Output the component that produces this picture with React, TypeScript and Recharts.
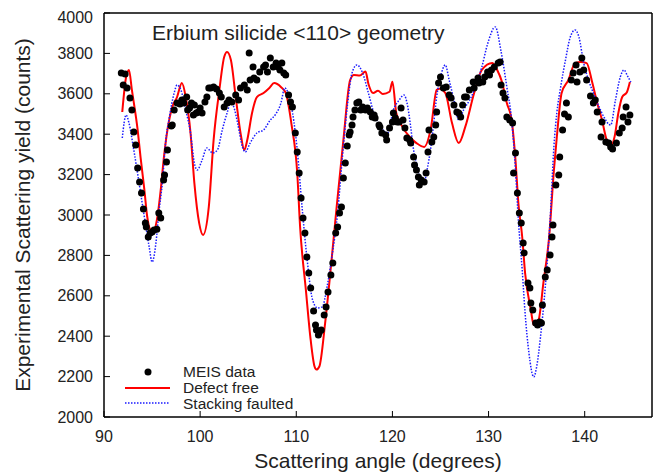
import {
  ComposedChart,
  Customized,
  Legend,
  Line,
  Scatter,
  XAxis,
  YAxis,
} from "recharts";

const FONT = "'Liberation Sans', Arial, Helvetica, sans-serif";

// MEIS data (scattering angle, yield)
const meisAngle = [
  91.8, 92.0, 92.2, 92.4, 92.7, 92.9, 93.1, 93.3, 93.5, 93.7, 93.9, 94.1, 94.3,
  94.4, 94.6, 94.8, 95.0, 95.2, 95.5, 95.7, 95.9, 96.2, 96.3, 96.5, 96.6, 97.0,
  97.1, 97.3, 97.6, 97.9, 98.1, 98.3, 98.6, 98.7, 98.9, 99.1, 99.3, 99.4, 99.6,
  99.8, 100.0, 100.2, 100.5, 100.7, 100.9, 101.1, 101.4, 101.7, 102.0, 102.2,
  102.5, 102.8, 103.0, 103.3, 103.7, 104.0, 104.2, 104.6, 104.9, 105.1, 105.2,
  105.5, 105.6, 105.9, 106.2, 106.6, 106.8, 107.0, 107.3, 107.6, 107.9, 108.1,
  108.3, 108.5, 108.7, 108.9, 109.2, 109.4, 109.6, 109.9, 110.1, 110.3, 110.5,
  110.7, 110.9, 111.1, 111.3, 111.5, 111.8, 112.0, 112.1, 112.3, 112.4, 112.6,
  112.9, 113.1, 113.3, 113.6, 113.8, 114.1, 114.3, 114.5, 114.7, 114.9, 115.1,
  115.3, 115.5, 115.6, 115.8, 115.9, 116.1, 116.3, 116.5, 116.7, 116.9, 117.2,
  117.4, 117.7, 117.9, 118.1, 118.2, 118.6, 118.7, 118.9, 119.3, 119.4, 119.7,
  120.0, 120.1, 120.3, 120.5, 120.7, 120.9, 121.1, 121.3, 121.5, 121.8, 121.9,
  122.2, 122.3, 122.5, 122.7, 122.8, 123.0, 123.3, 123.5, 123.7, 123.8, 124.1,
  124.3, 124.5, 124.6, 124.8, 125.0, 125.3, 125.6, 125.9, 126.1, 126.4, 126.7,
  126.9, 127.1, 127.3, 127.5, 127.7, 128.0, 128.4, 128.5, 128.9, 129.0, 129.4,
  129.6, 129.9, 130.1, 130.3, 130.6, 131.0, 131.2, 131.3, 131.5, 131.7, 131.9,
  132.2, 132.5, 132.6, 132.8, 133.0, 133.2, 133.4, 133.6, 133.7, 134.1, 134.3,
  134.4, 134.6, 134.9, 135.1, 135.3, 135.5, 135.6, 135.9, 136.1, 136.4, 136.6,
  136.7, 137.0, 137.3, 137.4, 137.7, 137.9, 138.1, 138.3, 138.6, 138.8, 139.1,
  139.2, 139.5, 139.7, 139.9, 140.2, 140.6, 140.9, 141.1, 141.3, 141.7, 141.8,
  142.2, 142.5, 142.7, 142.9, 143.3, 143.6, 143.9, 144.0, 144.3, 144.5, 144.7,
];
const meisYield = [
  3703, 3644, 3698, 3629, 3579, 3520, 3411, 3347, 3233, 3163, 3109, 3030, 2960,
  2941, 2891, 2911, 2916, 2926, 2930, 3010, 2985, 3173, 3198, 3262, 3322, 3440,
  3445, 3520, 3554, 3550, 3569, 3554, 3584, 3520, 3530, 3554, 3495, 3545, 3505,
  3510, 3530, 3505, 3559, 3584, 3629, 3629, 3634, 3624, 3604, 3584,
  3535, 3554, 3569, 3559, 3594, 3569, 3629, 3644, 3619, 3802, 3668,
  3733, 3678, 3668, 3708, 3733, 3743, 3708, 3777, 3733, 3752, 3733,
  3718, 3752, 3703, 3693, 3594, 3559, 3535, 3406, 3312, 3208, 3084,
  2985, 2911, 2792, 2713, 2639, 2525, 2455, 2431, 2406, 2420, 2431,
  2505, 2545, 2619, 2703, 2762, 2911, 2941, 3010, 3040, 3183, 3257,
  3342, 3396, 3411, 3445, 3485, 3520, 3554, 3559, 3520, 3535, 3520,
  3530, 3510, 3485, 3495, 3480, 3445, 3436, 3406, 3396, 3371, 3431,
  3460, 3505, 3480, 3460, 3460, 3530, 3470, 3431, 3381, 3371, 3356,
  3287, 3248, 3223, 3188, 3149, 3173, 3163, 3208, 3312, 3421, 3361,
  3386, 3445, 3510, 3653, 3683, 3629, 3634, 3594, 3579, 3545, 3510,
  3505, 3485, 3545, 3584, 3584, 3619, 3658, 3629, 3678, 3653, 3658,
  3683, 3708, 3693, 3718, 3733, 3752, 3757, 3644, 3604, 3579, 3485,
  3470, 3455, 3208, 3307, 3109, 3010, 2960, 2861, 2812, 2663, 2639,
  2564, 2530, 2465, 2455, 2470, 2465, 2554, 2693, 2728, 2802, 2891,
  2950, 3149, 3198, 3287, 3421, 3500, 3554, 3485, 3668, 3703, 3743,
  3658, 3708, 3777, 3718, 3668, 3589, 3554, 3569, 3510, 3386, 3460,
  3361, 3356, 3337, 3327, 3356, 3406, 3431, 3485, 3535, 3460, 3495,
];

// Defect free simulation
const defectAngle = [
  91.9, 92.3, 92.6, 92.9, 93.5, 93.8, 94.2, 94.5, 94.9, 95.2, 95.5, 95.9, 96.2,
  96.6, 97.1, 97.6, 98.1, 98.5, 99.0, 99.4, 99.9, 100.3, 100.9, 101.4, 102.0,
  102.5, 102.8, 103.2, 103.7, 104.2, 104.6, 104.9, 105.4, 105.9, 106.6, 107.2,
  107.7, 108.4, 108.9, 109.5, 110.1, 110.4, 111.0, 111.5, 111.9, 112.1, 112.4,
  113.0, 113.7, 114.2, 114.9, 115.6, 116.0, 116.6, 117.2, 117.5, 118.0, 118.5,
  119.0, 119.7, 120.0, 120.4, 121.0, 121.8, 122.5, 123.3, 124.0, 124.6, 124.9,
  125.5, 126.2, 126.9, 127.6, 128.5, 129.3, 130.4, 130.9, 131.4, 131.9, 132.4,
  132.8, 133.1, 133.5, 133.8, 134.4, 134.7, 135.2, 135.7, 136.3, 136.8, 137.1,
  137.6, 138.3, 139.0, 139.6, 140.2, 140.8, 141.3, 141.8, 142.3, 142.8, 143.1,
  143.5, 143.9, 144.4, 144.7,
];
const defectYield = [
  3510, 3683, 3718, 3619, 3421, 3287, 3124, 2990, 2926, 2926, 2975, 3124, 3272,
  3421, 3535, 3584, 3653, 3584, 3406, 3158, 2960, 2901, 3040, 3371, 3619,
  3782, 3807, 3767, 3584, 3406, 3322, 3371, 3505, 3584, 3604, 3629,
  3653, 3634, 3604, 3450, 3208, 2940, 2628, 2380, 2250, 2235, 2250,
  2465, 2792, 3040, 3371, 3668, 3693, 3690, 3710, 3650, 3604, 3615,
  3599, 3610, 3660, 3505, 3440, 3386, 3356, 3337, 3430, 3619, 3625,
  3604, 3455, 3356, 3440, 3604, 3718, 3752, 3718, 3658, 3554, 3470,
  3272, 3059, 2891, 2713, 2530, 2455, 2480, 2663, 2891, 3223, 3386,
  3604, 3668, 3752, 3757, 3752, 3653, 3554, 3470, 3371, 3347, 3386,
  3505, 3584, 3609, 3658,
];

// Stacking faulted simulation
const faultAngle = [
  91.9, 92.3, 92.6, 93.1, 93.6, 94.2, 94.7, 95.0, 95.4, 95.7, 96.1, 96.4, 96.8,
  97.3, 97.6, 98.0, 98.5, 99.0, 99.4, 99.7, 100.2, 100.7, 101.3, 101.8, 102.3,
  102.8, 103.2, 103.5, 103.9, 104.4, 104.7, 105.2, 105.9, 106.6, 107.3, 107.8,
  108.4, 108.8, 109.4, 110.1, 110.6, 111.1, 111.7, 112.2, 112.7, 113.2, 113.7,
  114.3, 114.8, 115.3, 115.8, 116.3, 116.9, 117.5, 118.1, 118.8, 119.5, 120.1,
  120.7, 121.2, 121.6, 121.9, 122.2, 122.6, 122.9, 123.3, 123.6, 124.0, 124.3,
  124.6, 125.0, 125.5, 125.9, 126.4, 126.9, 127.4, 128.2, 129.3, 129.9, 130.7,
  131.3, 131.9, 132.4, 132.8, 133.1, 133.5, 133.8, 134.2, 134.7, 135.0, 135.4,
  135.9, 136.4, 136.8, 137.1, 137.5, 138.0, 138.5, 139.0, 139.4, 139.9, 140.4,
  140.9, 141.5, 142.0, 142.7, 143.2, 143.7, 144.1, 144.4, 144.8,
];
const faultYield = [
  3381, 3495, 3455, 3322, 3173, 2990, 2842, 2767, 2861, 3010, 3173, 3356, 3485,
  3604, 3644, 3619, 3520, 3406, 3257, 3223, 3272, 3332, 3307, 3322, 3421,
  3505, 3559, 3535, 3455, 3337, 3312, 3356, 3406, 3421, 3470, 3495,
  3554, 3629, 3559, 3322, 3040, 2792, 2579, 2540, 2545, 2644, 2792,
  3010, 3287, 3535, 3703, 3743, 3703, 3604, 3500, 3436, 3406, 3520,
  3569, 3594, 3535, 3436, 3322, 3238, 3173, 3163, 3223, 3337, 3455,
  3584, 3683, 3743, 3668, 3569, 3470, 3520, 3584, 3733, 3847, 3931,
  3810, 3634, 3470, 3223, 2975, 2728, 2515, 2317, 2198, 2248, 2396,
  2644, 2975, 3340, 3505, 3634, 3767, 3881, 3916, 3881, 3752, 3668,
  3604, 3535, 3485, 3445, 3569, 3683, 3718, 3693, 3658,
];

const xTicks = [90, 100, 110, 120, 130, 140];
const yTicks = [2000, 2200, 2400, 2600, 2800, 3000, 3200, 3400, 3600, 3800, 4000];

const toPoints = (xs: number[], ys: number[]) =>
  xs.map((x, i) => ({ x, y: ys[i] }));

const meisData = toPoints(meisAngle, meisYield);
const defectData = toPoints(defectAngle, defectYield);
const faultData = toPoints(faultAngle, faultYield);

const tickStyle = { fill: "#222", fontSize: 16, fontFamily: FONT };
const axisLine = { stroke: "#000", strokeWidth: 1.5 };
const tickLine = { stroke: "#000", strokeWidth: 1 };

const Dot = (props: any) => (
  <circle cx={props.cx} cy={props.cy} r={3.5} fill="#000" />
);

const LegendBox = () => (
  <svg width={200} height={52} style={{ display: "block" }}>
    <circle cx={28} cy={10} r={3.5} fill="#000" />
    <line x1={5} x2={50} y1={26} y2={26} stroke="#ff0000" strokeWidth={2} />
    <line
      x1={5}
      x2={50}
      y1={41}
      y2={41}
      stroke="#1a1aff"
      strokeWidth={1.5}
      strokeDasharray="1.5 1.5"
    />
    <g fill="#222" fontSize={15.5} fontFamily={FONT}>
      <text x={63} y={15}>MEIS data</text>
      <text x={63} y={31}>Defect free</text>
      <text x={63} y={47}>Stacking faulted</text>
    </g>
  </svg>
);

const Texts = () => (
  <g fill="#222" fontFamily={FONT}>
    <text x={144} y={32} fontSize={21}>
      Erbium silicide &lt;110&gt; geometry
    </text>
    <text x={370} y={460} fontSize={21} textAnchor="middle">
      Scattering angle (degrees)
    </text>
    <text
      x={0}
      y={0}
      fontSize={21}
      textAnchor="middle"
      transform="translate(22 207) rotate(-90)"
    >
      Experimental Scattering yield (counts)
    </text>
  </g>
);

export default function App() {
  return (
    <ComposedChart
      width={658}
      height={467}
      margin={{ top: 4, right: 13, bottom: 0, left: 0 }}
    >
      <XAxis
        xAxisId="b"
        dataKey="x"
        type="number"
        domain={[90, 147]}
        ticks={xTicks}
        allowDataOverflow
        height={58}
        tickSize={-6}
        tickMargin={20}
        tick={tickStyle}
        axisLine={axisLine}
        tickLine={tickLine}
      />
      <XAxis
        xAxisId="t"
        orientation="top"
        type="number"
        domain={[90, 147]}
        ticks={xTicks}
        allowDataOverflow
        height={1}
        tickSize={-6}
        tick={false}
        axisLine={axisLine}
        tickLine={tickLine}
      />
      <YAxis
        yAxisId="l"
        dataKey="y"
        type="number"
        domain={[2000, 4000]}
        ticks={yTicks}
        allowDataOverflow
        width={96}
        tickSize={-6}
        tickMargin={17}
        tick={tickStyle}
        axisLine={axisLine}
        tickLine={tickLine}
      />
      <YAxis
        yAxisId="r"
        orientation="right"
        type="number"
        domain={[2000, 4000]}
        ticks={yTicks}
        allowDataOverflow
        width={1}
        tickSize={-6}
        tick={false}
        axisLine={axisLine}
        tickLine={tickLine}
      />
      <Scatter
        name="MEIS data"
        data={meisData}
        xAxisId="b"
        yAxisId="l"
        shape={Dot}
        isAnimationActive={false}
      />
      <Line
        name="Defect free"
        data={defectData}
        xAxisId="b"
        yAxisId="l"
        dataKey="y"
        type="monotone"
        stroke="#ff0000"
        strokeWidth={2}
        dot={false}
        activeDot={false}
        isAnimationActive={false}
      />
      <Line
        name="Stacking faulted"
        data={faultData}
        xAxisId="b"
        yAxisId="l"
        dataKey="y"
        type="monotone"
        stroke="#1a1aff"
        strokeWidth={1.5}
        strokeDasharray="1.5 1.5"
        dot={false}
        activeDot={false}
        isAnimationActive={false}
      />
      <Legend
        layout="vertical"
        align="center"
        verticalAlign="middle"
        content={LegendBox}
        wrapperStyle={{ left: 112, top: 354, width: 200, height: 52 }}
      />
      <Customized component={Texts} />
    </ComposedChart>
  );
}
